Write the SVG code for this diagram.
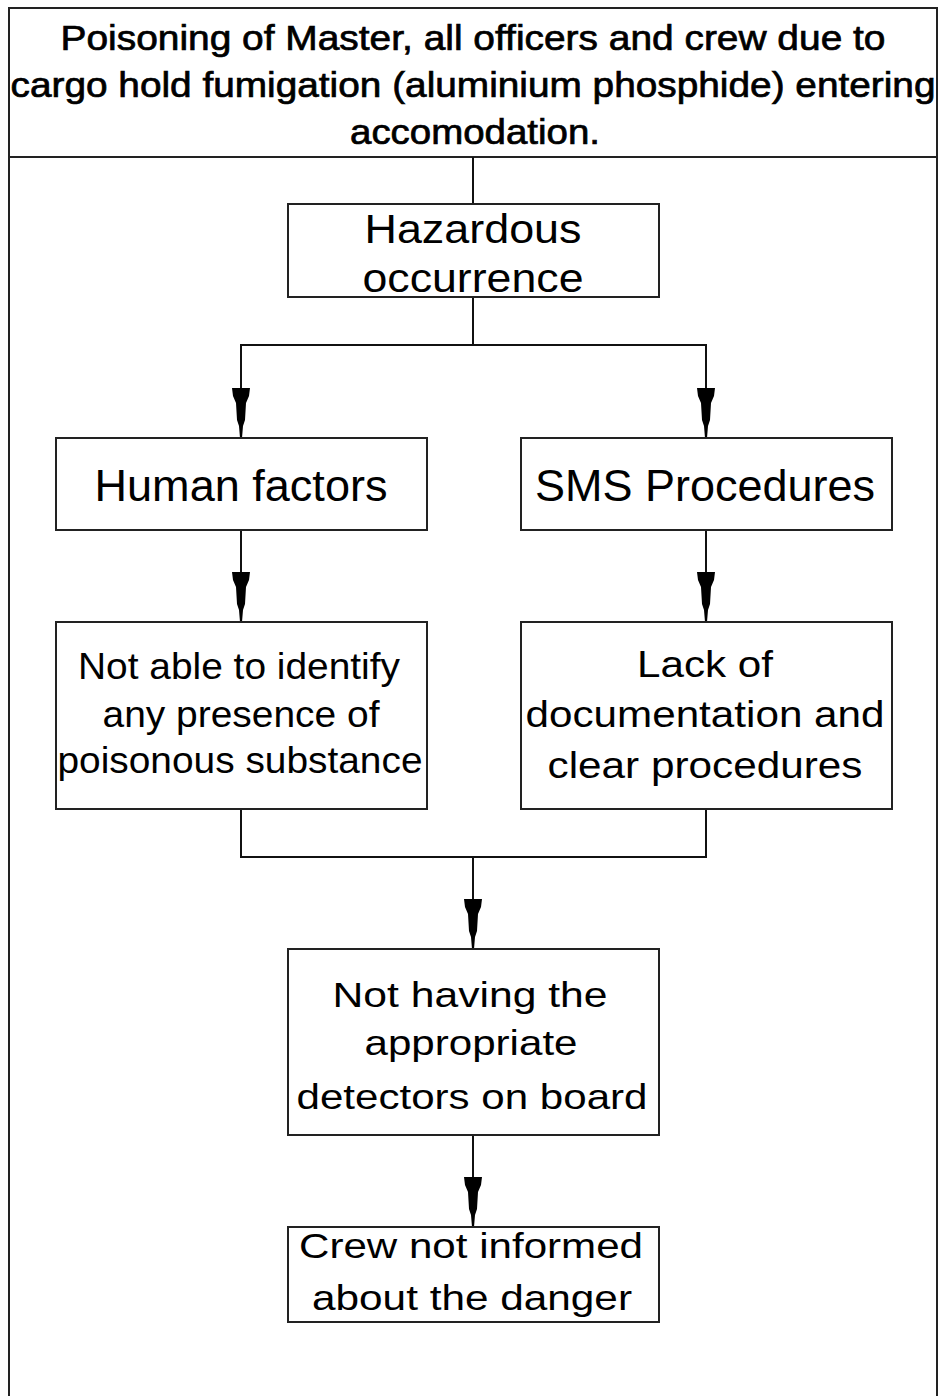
<svg xmlns="http://www.w3.org/2000/svg" width="941" height="1396" viewBox="0 0 941 1396">
  <style>
    .frame { fill: none; stroke: #222; stroke-width: 2; }
    .box { fill: #fff; stroke: #222; stroke-width: 2; }
    .wire { fill: none; stroke: #111; stroke-width: 2; }
    .lbl { font-family: "Liberation Sans", Arial, sans-serif; fill: #000; text-anchor: middle; }
    .head { font-family: "Liberation Sans", Arial, sans-serif; fill: #000; stroke: #000; stroke-width: 0.7; text-anchor: middle; }
  </style>
  <defs>
    <!-- narrow filled arrowhead, tip at the origin pointing down -->
    <path id="head" d="M -9 -50 L 9 -50 L 8 -42 L 5 -35 L 4 -18 L 2 -12 L 1 0 L -1 0 L -2 -12 L -4 -18 L -5 -35 L -8 -42 Z" fill="#000"/>
  </defs>
  <rect width="941" height="1396" fill="#fff"/>

  <!-- outer frame and title band -->
  <g id="title">
    <path class="frame" d="M 9 1400 L 9 8 L 937 8 L 937 1400"/>
    <line class="frame" x1="9" y1="157" x2="937" y2="157"/>
    <text class="head" font-size="35" x="473" y="50" textLength="825" lengthAdjust="spacingAndGlyphs">Poisoning of Master, all officers and crew due to</text>
    <text class="head" font-size="35" x="473" y="97" textLength="925" lengthAdjust="spacingAndGlyphs">cargo hold fumigation (aluminium phosphide) entering</text>
    <text class="head" font-size="35" x="475" y="144" textLength="250" lengthAdjust="spacingAndGlyphs">accomodation.</text>
  </g>

  <!-- connectors -->
  <g id="connectors">
    <line class="wire" x1="473" y1="157" x2="473" y2="204"/>
    <path class="wire" d="M 473 297 L 473 345 M 241 438 L 241 345 L 706 345 L 706 438"/>
    <line class="wire" x1="241" y1="530" x2="241" y2="622"/>
    <line class="wire" x1="706" y1="530" x2="706" y2="622"/>
    <path class="wire" d="M 241 809 L 241 857 L 706 857 L 706 809 M 473 857 L 473 949"/>
    <line class="wire" x1="473" y1="1135" x2="473" y2="1227"/>
    <use href="#head" x="241" y="438"/>
    <use href="#head" x="706" y="438"/>
    <use href="#head" x="241" y="622"/>
    <use href="#head" x="706" y="622"/>
    <use href="#head" x="473" y="949"/>
    <use href="#head" x="473" y="1227"/>
  </g>

  <g id="hazardous">
    <rect class="box" x="288" y="204" width="371" height="93"/>
    <text class="lbl" font-size="40" x="473" y="243" textLength="217" lengthAdjust="spacingAndGlyphs">Hazardous</text>
    <text class="lbl" font-size="40" x="473" y="292" textLength="221" lengthAdjust="spacingAndGlyphs">occurrence</text>
  </g>

  <g id="human">
    <rect class="box" x="56" y="438" width="371" height="92"/>
    <text class="lbl" font-size="45" x="241" y="501" textLength="293" lengthAdjust="spacingAndGlyphs">Human factors</text>
  </g>

  <g id="sms">
    <rect class="box" x="521" y="438" width="371" height="92"/>
    <text class="lbl" font-size="45" x="705" y="501" textLength="340" lengthAdjust="spacingAndGlyphs">SMS Procedures</text>
  </g>

  <g id="identify">
    <rect class="box" x="56" y="622" width="371" height="187"/>
    <text class="lbl" font-size="36" x="239" y="679" textLength="322" lengthAdjust="spacingAndGlyphs">Not able to identify</text>
    <text class="lbl" font-size="36" x="241" y="727" textLength="277" lengthAdjust="spacingAndGlyphs">any presence of</text>
    <text class="lbl" font-size="36" x="240" y="773" textLength="365" lengthAdjust="spacingAndGlyphs">poisonous substance</text>
  </g>

  <g id="documentation">
    <rect class="box" x="521" y="622" width="371" height="187"/>
    <text class="lbl" font-size="37" x="705" y="677" textLength="136" lengthAdjust="spacingAndGlyphs">Lack of</text>
    <text class="lbl" font-size="37" x="705" y="727" textLength="359" lengthAdjust="spacingAndGlyphs">documentation and</text>
    <text class="lbl" font-size="37" x="705" y="778" textLength="315" lengthAdjust="spacingAndGlyphs">clear procedures</text>
  </g>

  <g id="detectors">
    <rect class="box" x="288" y="949" width="371" height="186"/>
    <text class="lbl" font-size="35" x="470" y="1007" textLength="275" lengthAdjust="spacingAndGlyphs">Not having the</text>
    <text class="lbl" font-size="35" x="471" y="1055" textLength="213" lengthAdjust="spacingAndGlyphs">appropriate</text>
    <text class="lbl" font-size="35" x="472" y="1109" textLength="351" lengthAdjust="spacingAndGlyphs">detectors on board</text>
  </g>

  <g id="crew">
    <rect class="box" x="288" y="1227" width="371" height="95"/>
    <text class="lbl" font-size="35" x="471" y="1258" textLength="344" lengthAdjust="spacingAndGlyphs">Crew not informed</text>
    <text class="lbl" font-size="35" x="472" y="1310" textLength="320" lengthAdjust="spacingAndGlyphs">about the danger</text>
  </g>
</svg>
